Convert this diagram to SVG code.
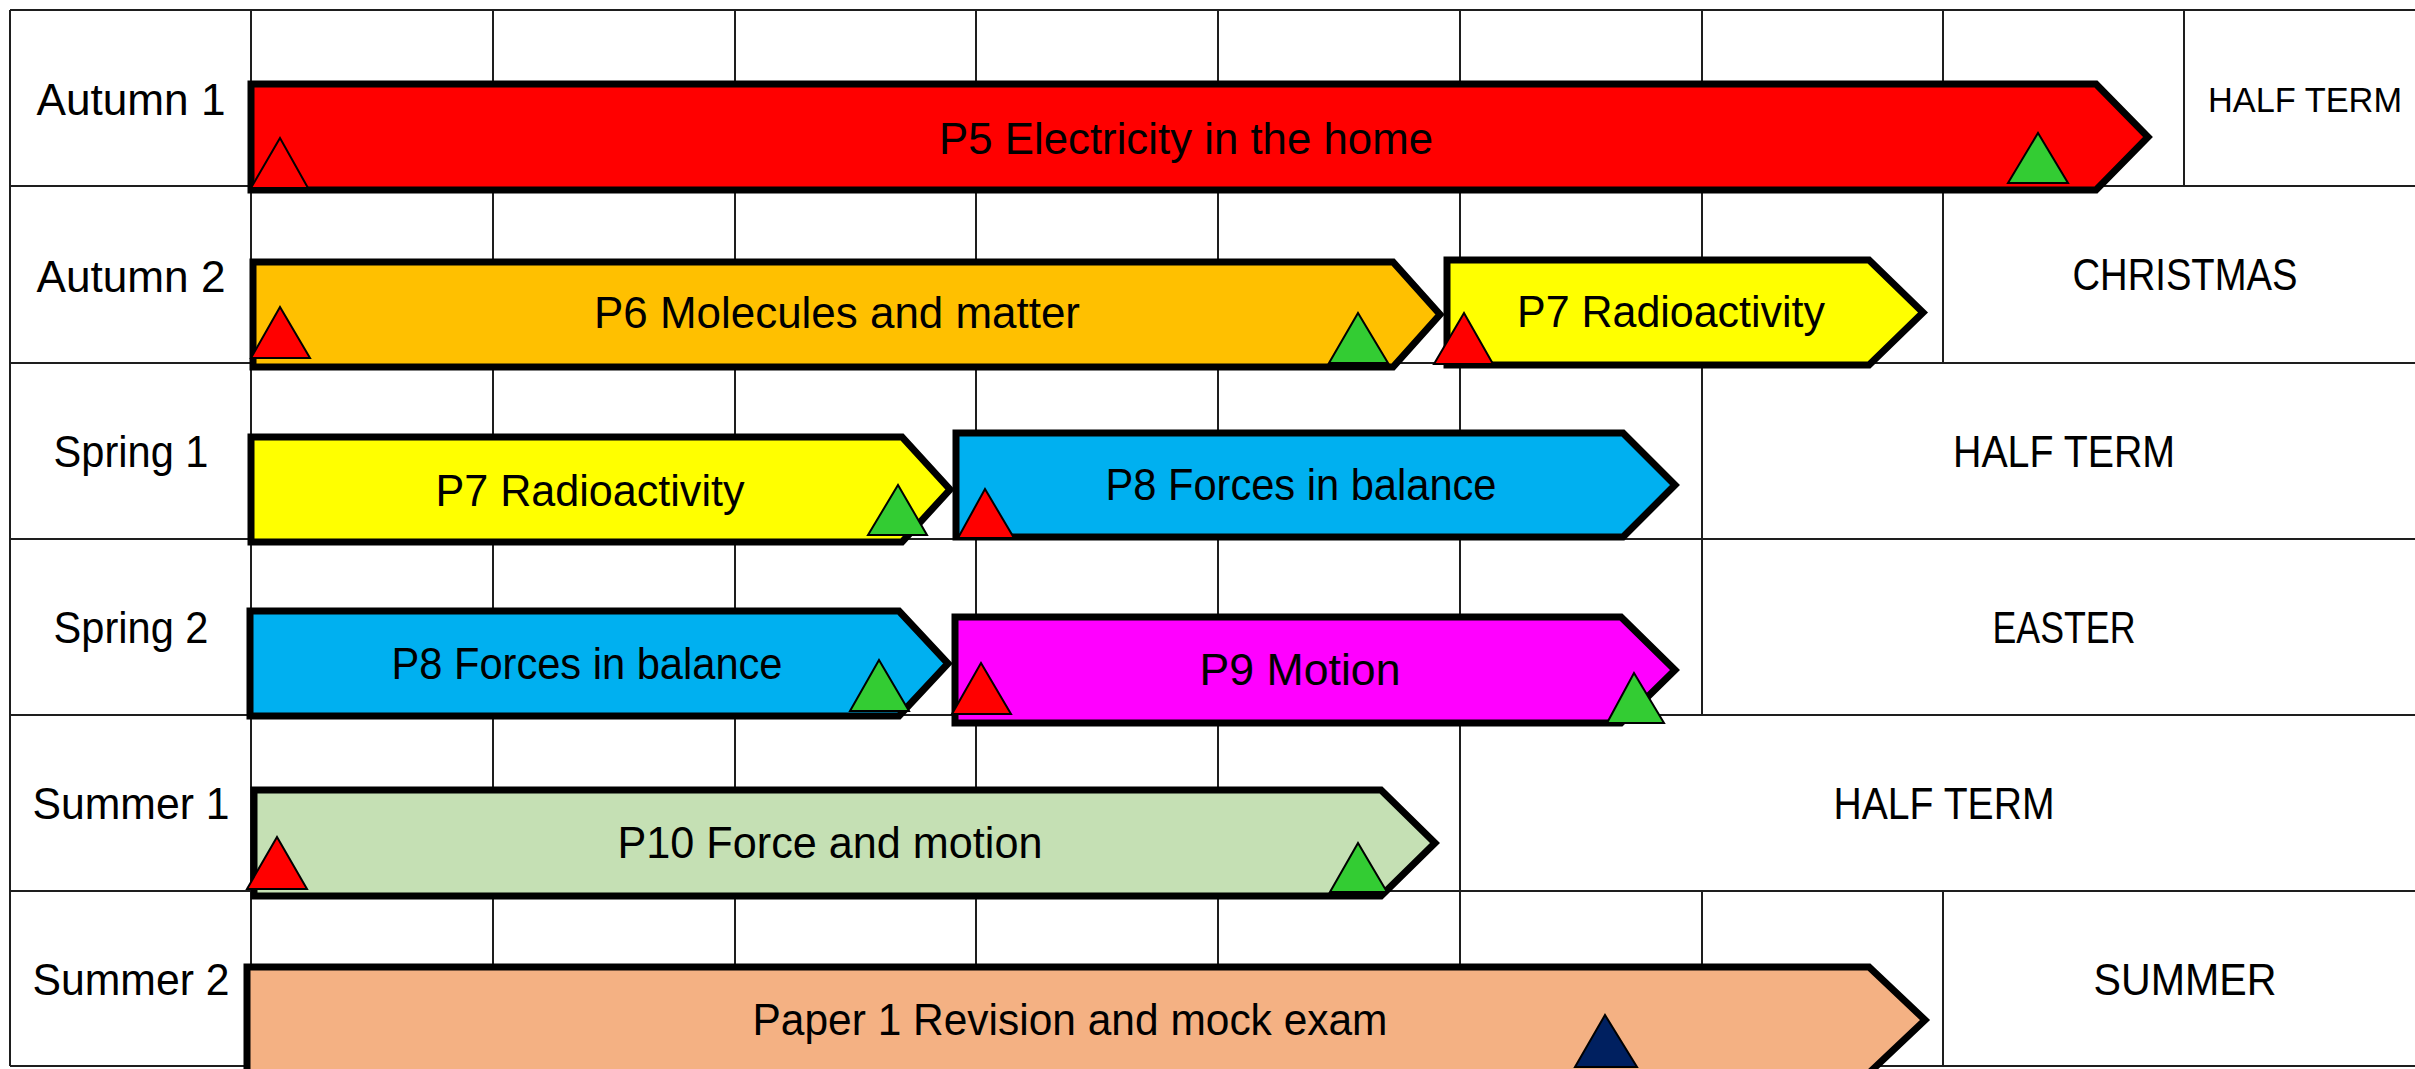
<svg xmlns="http://www.w3.org/2000/svg" width="2415" height="1069" viewBox="0 0 2415 1069">
<style>
.grid line{stroke:#1e1e1e;stroke-width:2}
.bar{stroke:#000;stroke-width:7;stroke-linejoin:miter}
.tri{stroke:#000;stroke-width:2;stroke-linejoin:miter}
.r{fill:#FF0000}.g{fill:#33CC33}.n{fill:#002060}
text{font-family:"Liberation Sans",Arial,sans-serif;font-size:44px;fill:#000;text-anchor:middle}
.small{font-size:35px}
</style>
<rect x="0" y="0" width="2415" height="1069" fill="#fff"/>
<g id="grid" class="grid">
<line x1="10" y1="10" x2="2415" y2="10"/>
<line x1="10" y1="186" x2="2415" y2="186"/>
<line x1="10" y1="363" x2="2415" y2="363"/>
<line x1="10" y1="539" x2="2415" y2="539"/>
<line x1="10" y1="715" x2="2415" y2="715"/>
<line x1="10" y1="891" x2="2415" y2="891"/>
<line x1="10" y1="1066" x2="2415" y2="1066"/>
<line x1="10" y1="10" x2="10" y2="1066"/>
<line x1="251" y1="10" x2="251" y2="1066"/>
<line x1="493" y1="10" x2="493" y2="1066"/>
<line x1="735" y1="10" x2="735" y2="1066"/>
<line x1="976" y1="10" x2="976" y2="1066"/>
<line x1="1218" y1="10" x2="1218" y2="1066"/>
<line x1="1460" y1="10" x2="1460" y2="1066"/>
<line x1="1702" y1="10" x2="1702" y2="715"/>
<line x1="1702" y1="891" x2="1702" y2="1066"/>
<line x1="1943" y1="10" x2="1943" y2="363"/>
<line x1="1943" y1="891" x2="1943" y2="1066"/>
<line x1="2184" y1="10" x2="2184" y2="186"/>
</g>
<g id="labels">
<text x="131" y="115" textLength="189" lengthAdjust="spacingAndGlyphs">Autumn 1</text>
<text x="131" y="292" textLength="189" lengthAdjust="spacingAndGlyphs">Autumn 2</text>
<text x="131" y="467" textLength="155" lengthAdjust="spacingAndGlyphs">Spring 1</text>
<text x="131" y="643" textLength="155" lengthAdjust="spacingAndGlyphs">Spring 2</text>
<text x="131" y="819" textLength="197" lengthAdjust="spacingAndGlyphs">Summer 1</text>
<text x="131" y="995" textLength="197" lengthAdjust="spacingAndGlyphs">Summer 2</text>
<text class="small" x="2305" y="112" textLength="194" lengthAdjust="spacingAndGlyphs">HALF TERM</text>
<text x="2185" y="290" textLength="225" lengthAdjust="spacingAndGlyphs">CHRISTMAS</text>
<text x="2064" y="467" textLength="222" lengthAdjust="spacingAndGlyphs">HALF TERM</text>
<text x="2064" y="643" textLength="143" lengthAdjust="spacingAndGlyphs">EASTER</text>
<text x="1944" y="819" textLength="221" lengthAdjust="spacingAndGlyphs">HALF TERM</text>
<text x="2185" y="995" textLength="183" lengthAdjust="spacingAndGlyphs">SUMMER</text>
</g>
<g id="p5">
<polygon class="bar" fill="#FF0000" points="251,84 2096,84 2148,137 2096,190 251,190"/>
<text x="1186" y="154" textLength="494" lengthAdjust="spacingAndGlyphs">P5 Electricity in the home</text>
<polygon class="tri r" points="251,188 280,138 308,188"/>
<polygon class="tri g" points="2008,183 2038,133 2068,183"/>
</g>
<g id="p6">
<polygon class="bar" fill="#FFC000" points="253,262 1393,262 1440,314.5 1393,367 253,367"/>
<text x="837" y="328" textLength="486" lengthAdjust="spacingAndGlyphs">P6 Molecules and matter</text>
<polygon class="tri r" points="251,358 280,307 310,358"/>
<polygon class="tri g" points="1329,363 1358,313 1388,363"/>
</g>
<g id="p7a">
<polygon class="bar" fill="#FFFF00" points="1447,260 1869,260 1923,312.5 1869,365 1447,365"/>
<text x="1671" y="327" textLength="308" lengthAdjust="spacingAndGlyphs">P7 Radioactivity</text>
<polygon class="tri r" points="1434,364 1464,313 1493,364"/>
</g>
<g id="p7b">
<polygon class="bar" fill="#FFFF00" points="251,437 902,437 950,489.5 902,542 251,542"/>
<text x="590" y="506" textLength="309" lengthAdjust="spacingAndGlyphs">P7 Radioactivity</text>
<polygon class="tri g" points="868,535 898,485 927,535"/>
</g>
<g id="p8a">
<polygon class="bar" fill="#00B0F0" points="956,433 1623,433 1675,485 1623,537 956,537"/>
<text x="1301" y="500" textLength="391" lengthAdjust="spacingAndGlyphs">P8 Forces in balance</text>
<polygon class="tri r" points="958,538 985,489 1014,538"/>
</g>
<g id="p8b">
<polygon class="bar" fill="#00B0F0" points="250,611 899,611 948,663.5 899,716 250,716"/>
<text x="587" y="679" textLength="391" lengthAdjust="spacingAndGlyphs">P8 Forces in balance</text>
<polygon class="tri g" points="850,711 879,660 909,711"/>
</g>
<g id="p9">
<polygon class="bar" fill="#FF00FF" points="955,617 1621,617 1675,670 1621,723 955,723"/>
<text x="1300" y="685" textLength="201" lengthAdjust="spacingAndGlyphs">P9 Motion</text>
<polygon class="tri r" points="952,714 981,663 1011,714"/>
<polygon class="tri g" points="1607,723 1634,673 1664,723"/>
</g>
<g id="p10">
<polygon class="bar" fill="#C5E0B4" points="254,790 1381,790 1435,843 1381,896 254,896"/>
<text x="830" y="858" textLength="425" lengthAdjust="spacingAndGlyphs">P10 Force and motion</text>
<polygon class="tri r" points="247,889 277,837 307,889"/>
<polygon class="tri g" points="1330,892 1358,843 1387,892"/>
</g>
<g id="paper1">
<polygon class="bar" fill="#F4B183" points="247,967 1869,967 1925,1020 1869,1073 247,1073"/>
<text x="1070" y="1035" textLength="635" lengthAdjust="spacingAndGlyphs">Paper 1 Revision and mock exam</text>
<polygon class="tri n" points="1575,1067 1605,1015 1637,1067"/>
</g>
</svg>
